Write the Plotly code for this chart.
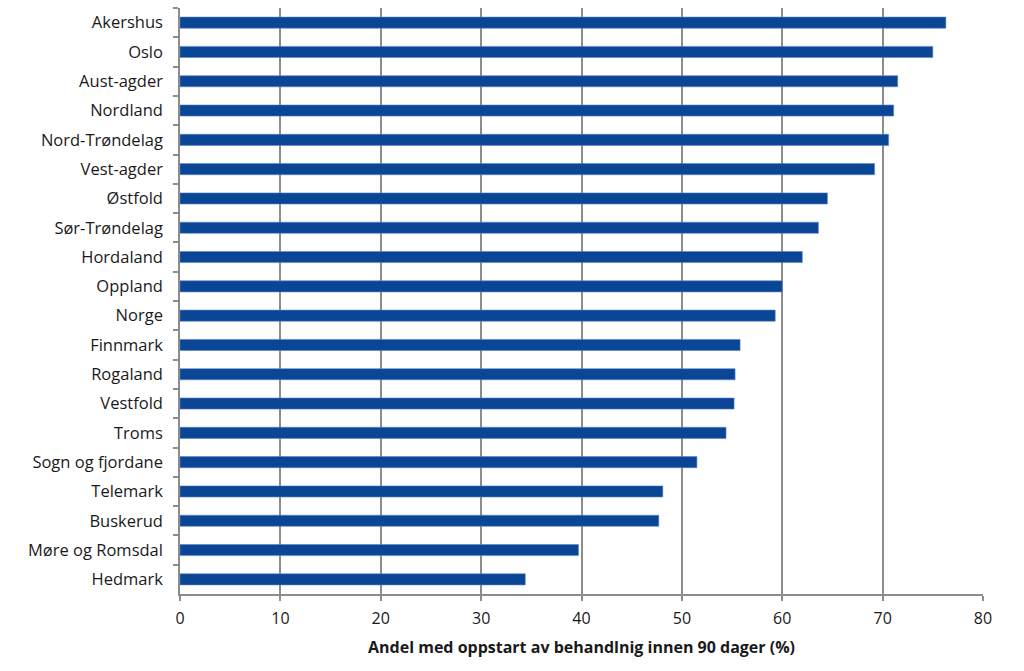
import plotly.graph_objects as go

categories = ["Akershus", "Oslo", "Aust-agder", "Nordland", "Nord-Trøndelag", "Vest-agder",
              "Østfold", "Sør-Trøndelag", "Hordaland", "Oppland", "Norge", "Finnmark",
              "Rogaland", "Vestfold", "Troms", "Sogn og fjordane", "Telemark", "Buskerud",
              "Møre og Romsdal", "Hedmark"]
values = [76.3, 75.0, 71.5, 71.1, 70.6, 69.2, 64.5, 63.6, 62.0, 60.0, 59.3, 55.8,
          55.3, 55.2, 54.4, 51.5, 48.1, 47.7, 39.7, 34.4]
x_ticks = [0, 10, 20, 30, 40, 50, 60, 70, 80]
x_title = "Andel med oppstart av behandlnig innen 90 dager (%)"

font_family = "Open Sans, Liberation Sans, sans-serif"

fig = go.Figure(go.Bar(
    x=values, y=categories, orientation="h",
    marker=dict(color="#0A4596", line=dict(color="#5B86C8", width=0.6)),
    width=0.38,
))

fig.update_layout(
    width=1024, height=671,
    margin=dict(l=180, r=41, t=8, b=77),
    paper_bgcolor="white", plot_bgcolor="white",
    showlegend=False,
    font=dict(family=font_family, size=16.5, color="#1a1a1a"),
)
fig.update_xaxes(
    range=[0, 80], tickvals=x_ticks, ticktext=[str(v) for v in x_ticks],
    showgrid=True, gridcolor="#8C8C8C", gridwidth=1.5,
    showline=True, linecolor="#8C8C8C", linewidth=1.5,
    ticks="outside", ticklen=5, tickcolor="#8C8C8C", tickwidth=1.5,
    zeroline=False,
    ticklabelstandoff=4,
    title=dict(text="<b>" + x_title + "</b>", font=dict(size=16, family=font_family), standoff=14),
    tickfont=dict(size=16),
)
fig.update_yaxes(
    categoryorder="array", categoryarray=categories, autorange="reversed",
    showline=True, linecolor="#8C8C8C", linewidth=1.5,
    ticks="outside", ticklen=5, tickcolor="#8C8C8C", tickwidth=1.5,
    tickson="boundaries", showgrid=False,
    ticklabelstandoff=12,
    tickfont=dict(size=16.5),
)

fig.write_html("out.html")
